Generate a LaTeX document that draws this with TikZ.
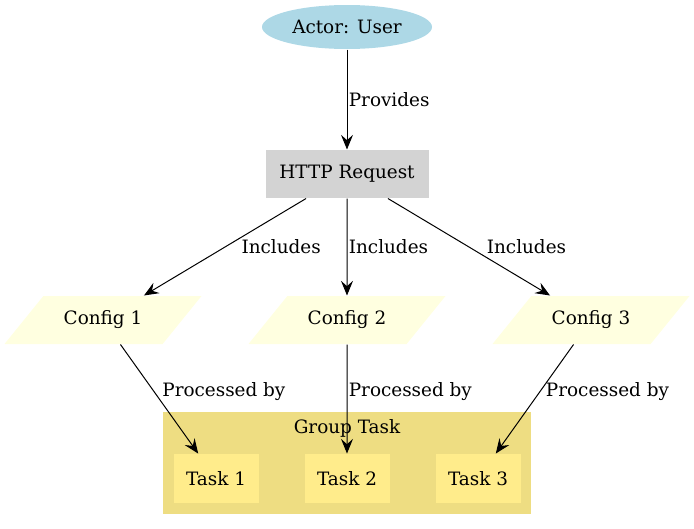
\documentclass[tikz,border=0pt]{standalone}
\usepackage{fontspec}
\setmainfont{DejaVu Serif}
\usetikzlibrary{shapes.geometric, positioning, arrows.meta, backgrounds}
\definecolor{actorblue}{HTML}{ADD8E6}
\definecolor{reqgray}{HTML}{D3D3D3}
\definecolor{cfgyellow}{HTML}{FFFFE0}
\definecolor{grpgold}{HTML}{EEDD82}
\definecolor{taskgold}{HTML}{FFEC8B}

\begin{document}
\begin{tikzpicture}[x=0.75pt, y=-0.75pt, font=\fontsize{13.8}{16}\selectfont,
		>={Stealth[length=11pt, width=9pt, inset=4pt]}, line width=0.75pt,
		actor/.style={ellipse, fill=actorblue, minimum width=127.5pt, minimum height=33pt, inner sep=0pt},
		request/.style={rectangle, fill=reqgray, minimum width=122.25pt, minimum height=36pt},
		config/.style={trapezium, trapezium left angle=51, trapezium right angle=129, trapezium stretches body,
			fill=cfgyellow, minimum width=147.75pt, text height=10pt, text depth=3pt, inner xsep=0pt, inner ysep=11.5pt},
		task/.style={rectangle, fill=taskgold, minimum width=63.75pt, minimum height=36.75pt},
		lbl/.style={anchor=west, inner sep=1pt}]
				\useasboundingbox (0,0) rectangle (694,529);
				\node[actor] (user) at (347,27) {Actor: User};
				\node[request, below of=user, node distance=110.25pt] (http) {HTTP Request};
				\node[config, below of=http, node distance=109.5pt] (c2) {Config 2};
				\node[config, left of=c2, node distance=183pt] (c1) {Config 1};
				\node[config, right of=c2, node distance=183pt] (c3) {Config 3};
				\node[task, below of=c2, node distance=118.9pt] (t2) {Task 2};
				\node[task, left of=t2, node distance=98.25pt] (t1) {Task 1};
				\node[task, right of=t2, node distance=98.25pt] (t3) {Task 3};
				\node[above of=t2, node distance=37.9pt] (grp) {Group Task};
				\begin{scope}[on background layer]
					\fill[grpgold] ([xshift=-7.5pt, yshift=-7.5pt]t1.south west) rectangle ([xshift=7.5pt, yshift=31.5pt]t3.north east);
				\end{scope}
				\path[->] (user) edge node [lbl] {Provides} (http)
					(http) edge node [lbl, xshift=11pt] {Includes} (c1)
					(http) edge node [lbl] {Includes} (c2)
					(http) edge node [lbl, xshift=12pt] {Includes} (c3)
					(c1) edge node [lbl, pos=.43, xshift=5pt] {Processed by} (t1)
					(c2) edge node [lbl, pos=.43] {Processed by} (t2)
					(c3) edge node [lbl, pos=.43, xshift=3pt] {Processed by} (t3);
			\end{tikzpicture}
\end{document}
